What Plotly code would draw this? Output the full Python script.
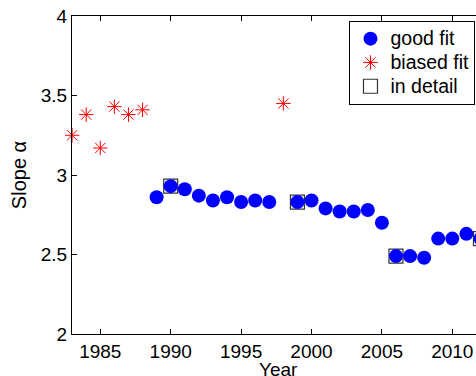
import plotly.graph_objects as go

good_years = [1989, 1990, 1991, 1992, 1993, 1994, 1995, 1996, 1997, 1999, 2000, 2001,
              2002, 2003, 2004, 2005, 2006, 2007, 2008, 2009, 2010, 2011, 2012]
good_slopes = [2.86, 2.93, 2.91, 2.87, 2.84, 2.86, 2.83, 2.84, 2.83, 2.83, 2.84, 2.79,
               2.77, 2.77, 2.78, 2.70, 2.49, 2.49, 2.48, 2.60, 2.60, 2.63, 2.60]
biased_years = [1983, 1984, 1985, 1986, 1987, 1988, 1998]
biased_slopes = [3.25, 3.38, 3.17, 3.43, 3.38, 3.41, 3.45]
detail_years = [1990, 1999, 2006, 2012]
detail_slopes = [2.93, 2.83, 2.49, 2.60]

x_ticks = [1985, 1990, 1995, 2000, 2005, 2010]
y_ticks = [2, 2.5, 3, 3.5, 4]

FONT = "Liberation Sans, Arial, sans-serif"


def leg(name):
    return "<span style='font-size:19.5px'>" + name + "</span>"


fig = go.Figure()
fig.add_trace(go.Scatter(
    x=detail_years, y=detail_slopes, mode="markers", name=leg("in detail"),
    marker=dict(symbol="square-open", size=14, color="#333333", line=dict(width=1.2, color="#333333")),
    cliponaxis=False, legendrank=3))
fig.add_trace(go.Scatter(
    x=good_years, y=good_slopes, mode="markers", name=leg("good fit"),
    marker=dict(symbol="circle", size=14, color="#0000ff", line=dict(width=0)),
    cliponaxis=False, legendrank=1))
fig.add_trace(go.Scatter(
    x=biased_years, y=biased_slopes, mode="markers", name=leg("biased fit"),
    marker=dict(symbol="asterisk-open", size=12, color="#ff0000", line=dict(width=1, color="#ff0000")),
    cliponaxis=False, legendrank=2))

W = 486
fig.update_layout(
    width=W, height=376,
    margin=dict(l=72, r=0, t=16, b=42),
    paper_bgcolor="white", plot_bgcolor="white",
    font=dict(family=FONT, size=19, color="black"),
    showlegend=True,
    legend=dict(x=0.9746, y=0.985, xanchor="right", yanchor="top",
                bordercolor="black", borderwidth=1, bgcolor="white",
                font=dict(family=FONT, size=16), tracegroupgap=0,
                itemsizing="trace"),
    xaxis=dict(range=[1982.99, 1982.99 + (W - 72) / 14.08], tickvals=x_ticks, ticks="inside", ticklen=5,
               tickcolor="black", showline=True, linecolor="black", linewidth=1,
               mirror="ticks", showgrid=False, zeroline=False, automargin=False),
    yaxis=dict(range=[2, 4], tickvals=y_ticks, ticktext=["2", "2.5", "3", "3.5", "4"],
               ticks="inside", ticklen=5, tickcolor="black", showline=True,
               linecolor="black", linewidth=1, mirror=False, showgrid=False, zeroline=False,
               automargin=False,
               title=dict(text="Slope α", standoff=8, font=dict(size=20))),
    annotations=[dict(text="Year", xref="paper", yref="paper", x=0.4976, y=-0.0723,
                      xanchor="center", yanchor="top", showarrow=False,
                      font=dict(family=FONT, size=19, color="black"))],
)

fig.write_html("out.html", post_script="document.documentElement.style.overflow='hidden';document.body.style.overflow='hidden';")
